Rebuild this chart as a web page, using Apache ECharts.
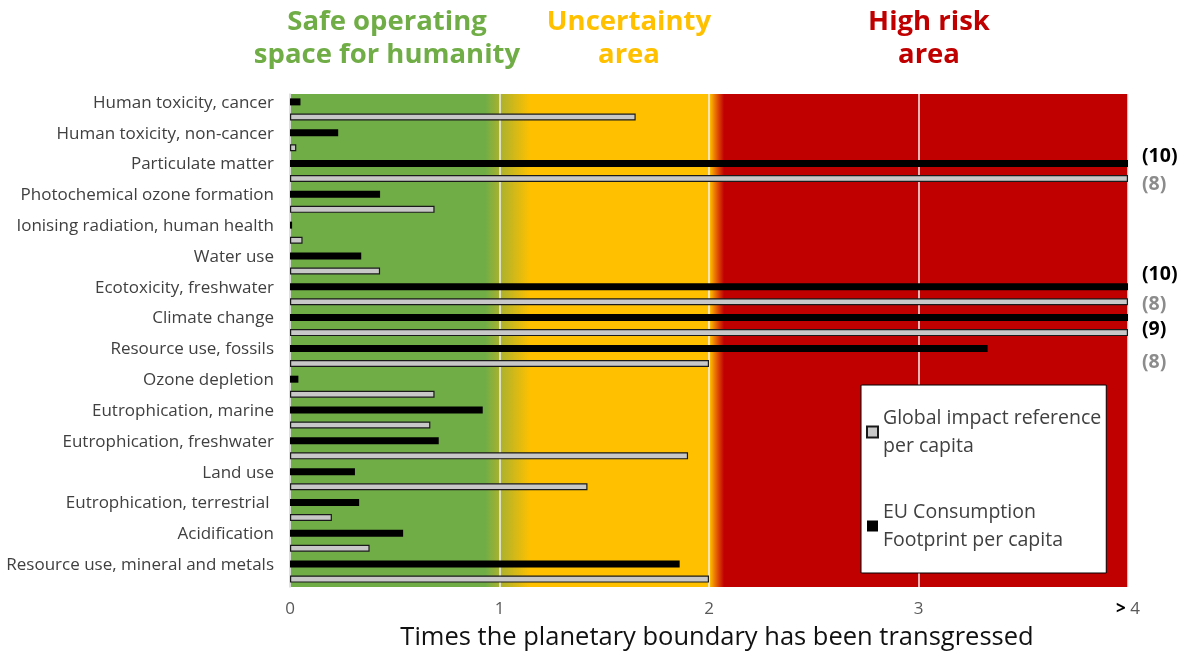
<!DOCTYPE html>
<html><head><meta charset="utf-8">
<script src="https://cdn.jsdelivr.net/npm/echarts@6/dist/echarts.min.js"></script>
<style>html,body{margin:0;padding:0;background:#fff}#c{width:1195px;height:659px}</style>
</head><body><div id="c"></div>
<script>
const categories = ['Human toxicity, cancer','Human toxicity, non-cancer','Particulate matter','Photochemical ozone formation','Ionising radiation, human health','Water use','Ecotoxicity, freshwater','Climate change','Resource use, fossils','Ozone depletion','Eutrophication, marine','Eutrophication, freshwater','Land use','Eutrophication, terrestrial ','Acidification','Resource use, mineral and metals'];
const euValues = [0.05, 0.23, 10, 0.43, 0.01, 0.34, 10, 9, 3.33, 0.04, 0.92, 0.71, 0.31, 0.33, 0.54, 1.86];
const globalValues = [1.65, 0.03, 8, 0.69, 0.06, 0.43, 8, 8, 2.0, 0.69, 0.67, 1.90, 1.42, 0.20, 0.38, 2.0];
const xTickLabels = ['0', '1', '2', '3', '> 4'];
const axisMax = 4;
const euName = 'EU Consumption Footprint per capita';
const globalName = 'Global impact reference per capita';

const euLabelOffset = {2: -7, 6: -12, 7: 12};
const globalLabelOffset = {2: 6, 6: 3, 7: 30};

function buildData(vals, offsets, color) {
  return vals.map((v, i) => {
    const item = {value: Math.min(v, axisMax)};
    if (v > axisMax) {
      item.label = {show: true, position: 'right', distance: 14, formatter: '(' + v + ')',
        offset: [0, offsets[i] || 0], color: color, fontWeight: 'bold', fontSize: 19.5,
        fontFamily: 'Open Sans'};
    }
    return item;
  });
}

const titleStyle = c => ({color: c, fontSize: 27.5, fontWeight: 'bold', fontFamily: 'Open Sans', lineHeight: 33});

const chart = echarts.init(document.getElementById('c'));
chart.setOption({
  animation: false,
  title: [
    {text: 'Safe operating\nspace for humanity', left: 382, top: 1, textAlign: 'center', textStyle: titleStyle('#70AD47')},
    {text: 'Uncertainty\narea', left: 624, top: 1, textAlign: 'center', textStyle: titleStyle('#FFC000')},
    {text: 'High risk\narea', left: 924, top: 1, textAlign: 'center', textStyle: titleStyle('#C00000')}
  ],
  grid: {left: 290, right: 67, top: 94, bottom: 72, show: true, borderWidth: 0,
    backgroundColor: new echarts.graphic.LinearGradient(0, 0, 1, 0, [
      {offset: 0, color: '#70AD47'}, {offset: 0.233, color: '#70AD47'},
      {offset: 0.25, color: '#A8B12F'},
      {offset: 0.287, color: '#FFC000'}, {offset: 0.501, color: '#FFC000'},
      {offset: 0.508, color: '#E86A00'},
      {offset: 0.518, color: '#C00000'}, {offset: 1, color: '#C00000'}])},
  legend: {
    left: 861, top: 385, orient: 'vertical', itemGap: 38, itemWidth: 11, itemHeight: 11,
    icon: 'rect', backgroundColor: '#fff', borderColor: '#000', borderWidth: 1,
    padding: [19, 5, 19, 5],
    data: [globalName, euName],
    formatter: n => n === globalName ? 'Global impact reference\nper capita' : 'EU Consumption\nFootprint per capita',
    textStyle: {fontSize: 19.5, lineHeight: 28, color: '#404040', fontFamily: 'Open Sans'}
  },
  xAxis: {
    type: 'value', min: 0, max: axisMax, interval: 1,
    name: 'Times the planetary boundary has been transgressed', nameLocation: 'middle', nameGap: 38,
    nameTextStyle: {fontSize: 25.5, color: '#111', fontFamily: 'Open Sans', padding: [0, 0, 0, 16]},
    axisLine: {show: false}, axisTick: {show: false},
    splitLine: {show: true, lineStyle: {color: '#f2f2f2', width: 1.5}},
    axisLabel: {margin: 14, fontSize: 17, color: '#595959', fontFamily: 'Open Sans',
      formatter: (v) => {
        const t = xTickLabels[Math.round(v)];
        return t === '> 4' ? '{b|>} 4' : t;
      },
      rich: {b: {fontWeight: 'bold', color: '#000', fontSize: 17, fontFamily: 'Open Sans'}}}
  },
  yAxis: {
    type: 'category', data: categories, inverse: true,
    axisLine: {show: true, lineStyle: {color: '#d9d9d9', width: 1.5}}, axisTick: {show: false},
    axisLabel: {margin: 16, fontSize: 17, color: '#404040', fontFamily: 'Open Sans',
      verticalAlign: 'bottom', lineHeight: 13}
  },
  series: [
    {name: euName, type: 'bar', data: buildData(euValues, euLabelOffset, '#000'),
     barWidth: 7, barGap: '115%', itemStyle: {color: '#000'}},
    {name: globalName, type: 'bar', data: buildData(globalValues, globalLabelOffset, '#8c8c8c'),
     barWidth: 7, itemStyle: {color: '#c8c8c8', borderColor: '#1a1a1a', borderWidth: 1.2}}
  ]
});
</script></body></html>
